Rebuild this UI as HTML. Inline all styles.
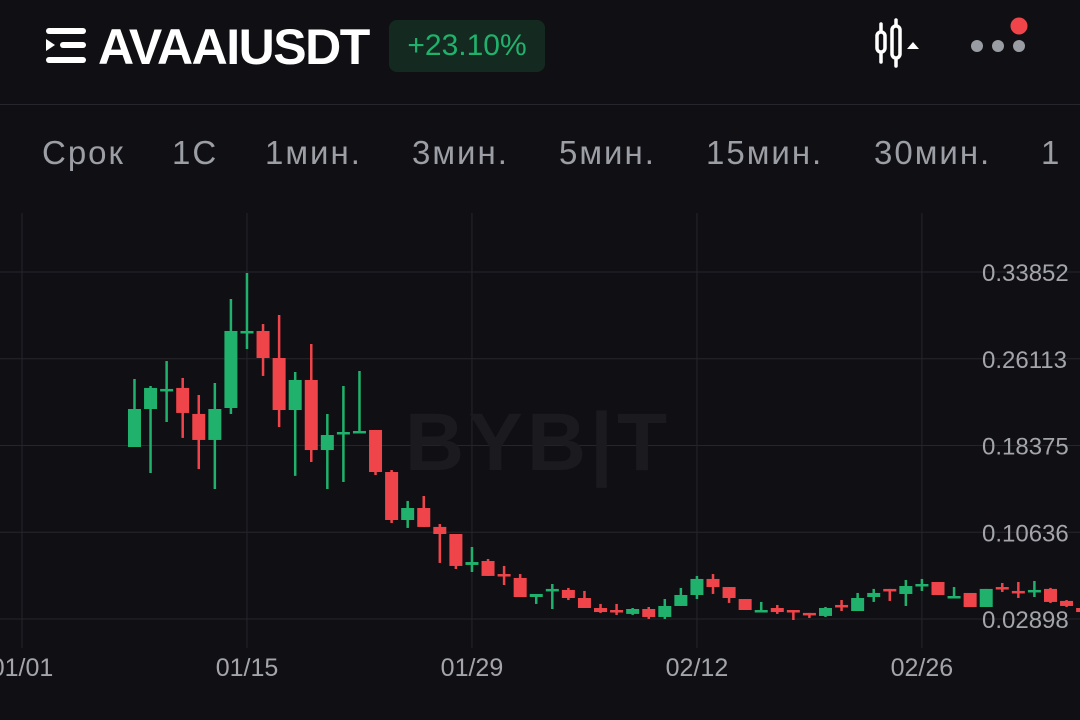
<!DOCTYPE html>
<html><head><meta charset="utf-8">
<style>
html,body{margin:0;padding:0;background:#101014;width:1080px;height:720px;overflow:hidden;font-family:"Liberation Sans","Noto Sans CJK SC",sans-serif;}
#wrap{position:relative;width:1080px;height:720px;}
.title{position:absolute;left:98px;top:18px;font-size:50px;font-weight:bold;color:#fff;letter-spacing:-1.5px;}
.badge{position:absolute;left:389px;top:20px;width:156px;height:52px;background:#14291f;border-radius:8px;color:#20b26c;font-size:30px;line-height:52px;text-align:center;}
.tab{position:absolute;top:134px;font-size:33px;color:#9c9ea5;letter-spacing:2px;}
.divider{position:absolute;left:0;top:104px;width:1080px;height:1px;background:#26262c;}
</style></head>
<body><div id="wrap">
<svg style="position:absolute;left:46px;top:28px" width="42" height="36">
<rect x="0" y="0" width="40" height="6" rx="3" fill="#fff"/><rect x="14" y="14" width="26" height="6" rx="3" fill="#fff"/><rect x="0" y="29" width="40" height="6" rx="3" fill="#fff"/><polygon points="0,11 0,23 9,17" fill="#fff"/></svg>
<div class="title">AVAAIUSDT</div>
<div class="badge">+23.10%</div>
<svg style="position:absolute;left:874px;top:16px" width="56" height="54">
<line x1="7" y1="8" x2="7" y2="46" stroke="#fff" stroke-width="3.5" stroke-linecap="round"/>
<rect x="3" y="16" width="8" height="20" rx="4" fill="#101014" stroke="#fff" stroke-width="3.5"/>
<line x1="22" y1="4" x2="22" y2="50" stroke="#fff" stroke-width="3.5" stroke-linecap="round"/>
<rect x="18" y="10" width="8" height="32" rx="4" fill="#101014" stroke="#fff" stroke-width="3.5"/>
<polygon points="33,33 45,33 39,26" fill="#fff"/></svg>
<svg style="position:absolute;left:966px;top:12px" width="66" height="46">
<circle cx="11" cy="34" r="6" fill="#9a9ca3"/><circle cx="32" cy="34" r="6" fill="#9a9ca3"/><circle cx="53" cy="34" r="6" fill="#9a9ca3"/><circle cx="53" cy="14" r="8.5" fill="#ef454a"/></svg>
<div class="divider"></div>
<div class="tab" style="left:42px">Срок</div>
<div class="tab" style="left:172px">1С</div>
<div class="tab" style="left:265px">1мин.</div>
<div class="tab" style="left:412px">3мин.</div>
<div class="tab" style="left:559px">5мин.</div>
<div class="tab" style="left:706px">15мин.</div>
<div class="tab" style="left:874px">30мин.</div>
<div class="tab" style="left:1041px">1</div>
<svg id="chart" style="position:absolute;left:0;top:0" width="1080" height="720"></svg>
</div>
<script>
const dates=["01/08","01/09","01/10","01/11","01/12","01/13","01/14","01/15","01/16","01/17","01/18","01/19","01/20","01/21","01/22","01/23","01/24","01/25","01/26","01/27","01/28","01/29","01/30","01/31","02/01","02/02","02/03","02/04","02/05","02/06","02/07","02/08","02/09","02/10","02/11","02/12","02/13","02/14","02/15","02/16","02/17","02/18","02/19","02/20","02/21","02/22","02/23","02/24","02/25","02/26","02/27","02/28","03/01","03/02","03/03","03/04","03/05","03/06","03/07","03/08"];
const opens=[.1824,.2163,.2324,.2351,.2119,.1887,.2172,.2841,.2859,.2618,.2154,.2422,.1797,.1940,.1949,.1976,.1601,.1173,.1280,.1111,.1048,.0772,.0807,.0691,.0656,.0486,.0540,.0549,.0477,.0388,.0370,.0335,.0379,.0308,.0406,.0504,.0647,.0575,.0468,.0352,.0388,.0370,.0344,.0317,.0415,.0361,.0486,.0558,.0513,.0584,.0620,.0477,.0522,.0397,.0575,.0540,.0531,.0558,.0451,.0388];
const closes=[.2163,.2351,.2342,.2128,.1887,.2163,.2859,.2859,.2618,.2154,.2422,.1797,.1931,.1958,.1967,.1601,.1173,.1280,.1111,.1048,.0763,.0798,.0674,.0674,.0486,.0513,.0558,.0477,.0388,.0352,.0352,.0379,.0308,.0406,.0504,.0647,.0575,.0477,.0370,.0370,.0352,.0352,.0326,.0388,.0397,.0477,.0522,.0540,.0584,.0602,.0504,.0495,.0397,.0558,.0558,.0522,.0549,.0442,.0406,.0352];
const highs=[.2431,.2368,.2591,.2440,.2288,.2395,.3144,.3376,.2921,.3002,.2493,.2743,.2119,.2368,.2502,.1976,.1619,.1343,.1387,.1137,.1048,.0932,.0825,.0763,.0691,.0513,.0602,.0567,.0540,.0424,.0424,.0388,.0397,.0468,.0567,.0674,.0691,.0575,.0468,.0442,.0415,.0370,.0344,.0397,.0459,.0522,.0558,.0558,.0638,.0647,.0620,.0575,.0522,.0558,.0611,.0620,.0629,.0567,.0459,.0397];
const lows=[.1824,.1592,.2047,.1905,.1628,.1450,.2119,.2698,.2458,.2003,.1566,.1690,.1450,.1512,.1949,.1574,.1146,.1102,.1111,.0790,.0736,.0709,.0674,.0593,.0486,.0424,.0379,.0459,.0388,.0344,.0326,.0326,.0290,.0290,.0406,.0468,.0513,.0433,.0370,.0352,.0335,.0281,.0299,.0308,.0361,.0361,.0442,.0451,.0406,.0540,.0504,.0477,.0397,.0397,.0531,.0477,.0486,.0433,.0397,.0344];
const yTicks=[0.33852,0.26113,0.18375,0.10636,0.02898];
const yTickLabels=["0.33852","0.26113","0.18375","0.10636","0.02898"];
const xTicks=["01/01","01/15","01/29","02/12","02/26"];

const NS="http://www.w3.org/2000/svg";
const svg=document.getElementById('chart');
const cum=[0,31,59];
function dayIdx(s){const m=+s.slice(0,2),d=+s.slice(3);return cum[m-1]+d-1;}
function xScale(s){return 22+dayIdx(s)*16.07;}
function yScale(v){return 619-(v-0.02898)/(0.33852-0.02898)*347;}
function mk(tag,attrs){const e=document.createElementNS(NS,tag);for(const k in attrs)e.setAttribute(k,attrs[k]);svg.appendChild(e);return e;}

yTicks.forEach((v,i)=>{
  const y=yScale(v);
  const l=mk('line',{x1:0,x2:1080,y1:y,y2:y,stroke:'#25252b','stroke-width':1});
  
  
  const t=mk('text',{x:982,y:y+9,fill:'#a3a5ab','font-size':24,'font-family':'Liberation Sans, sans-serif'});
  t.textContent=yTickLabels[i];
  
  
});
xTicks.forEach(s=>{
  const x=xScale(s);
  const l=mk('line',{x1:x,x2:x,y1:213,y2:648,stroke:'#25252b','stroke-width':1});
  
  
  const t=mk('text',{x:x,y:676,fill:'#a3a5ab','font-size':25,'text-anchor':'middle','font-family':'Liberation Sans, sans-serif'});
  t.textContent=s;
  
  
});
const wm=mk('text',{x:538,y:470,fill:'#1a1a1f','font-size':82,'font-weight':'bold','text-anchor':'middle','letter-spacing':4,'font-family':'Liberation Sans, sans-serif'});
wm.textContent='BYB|T';



dates.forEach((d,i)=>{
  const x=xScale(d),o=opens[i],c=closes[i];
  const col=c>=o?'#20b26c':'#ef454a';
  const w=mk('line',{x1:x,x2:x,y1:yScale(highs[i]),y2:yScale(lows[i]),stroke:col,'stroke-width':2.5});
  
  
  const top=yScale(Math.max(o,c)),bot=yScale(Math.min(o,c));
  const b=mk('rect',{x:x-6.5,y:top,width:13,height:Math.max(2.5,bot-top),fill:col});
  
  
});
</script>
</body></html>
